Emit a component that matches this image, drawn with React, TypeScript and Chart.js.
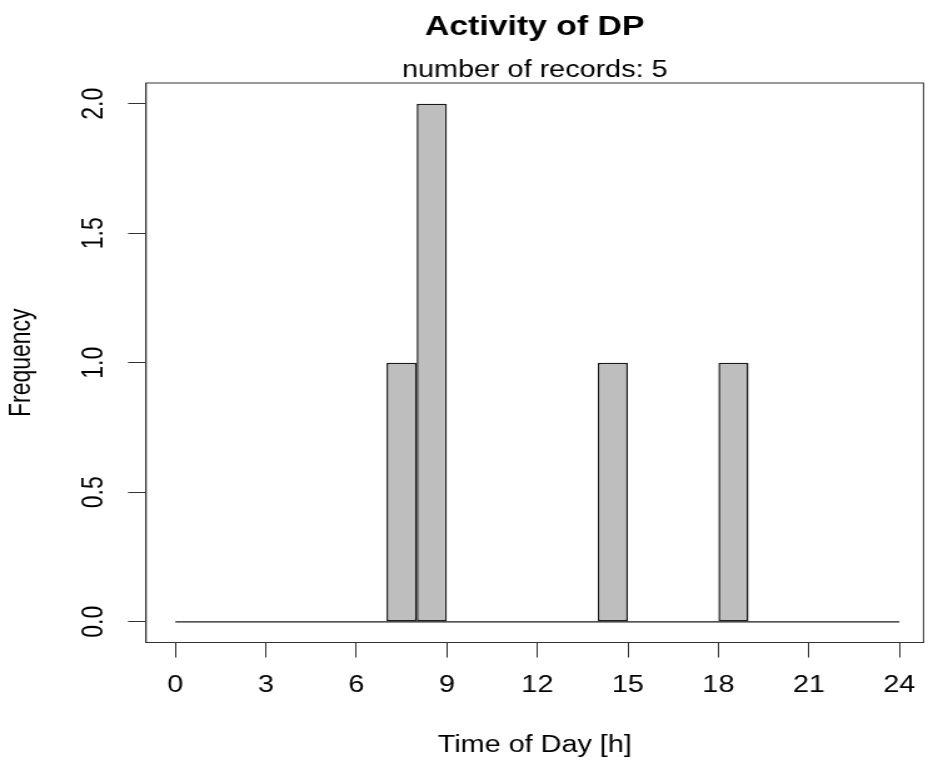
import React, { useEffect, useRef } from 'react';
import { Chart, registerables } from 'chart.js';

Chart.register(...registerables);

// ---- data ----
const binStartHours = [0, 1, 2, 3, 4, 5, 6, 7, 8, 9, 10, 11, 12, 13, 14, 15, 16, 17, 18, 19, 20, 21, 22, 23];
const frequencies = [0, 0, 0, 0, 0, 0, 0, 1, 2, 0, 0, 0, 0, 0, 1, 0, 0, 0, 1, 0, 0, 0, 0, 0];
const binWidth = 1;
const xTickValues = [0, 3, 6, 9, 12, 15, 18, 21, 24];
const yTickValues = [0, 0.5, 1, 1.5, 2];
const yTickLabels = ['0.0', '0.5', '1.0', '1.5', '2.0'];
const chartTitle = 'Activity of DP';
const chartSubtitle = 'number of records: 5';
const xAxisTitle = 'Time of Day [h]';
const yAxisTitle = 'Frequency';

// ---- layout / style ----
const W = 742;
const H = 760;
const STRETCH = 928 / W;
const FONT = "'Liberation Sans', Arial, Helvetica, sans-serif";
const INK = '#000';
const LINE = '#333';
const BAR_LINE = '#1a1a1a';
const BAR_FILL = '#bebebe';

const plotBox = {
  id: 'plotBox',
  afterDatasetsDraw(chart: any) {
    const { ctx, chartArea } = chart;
    const { left, top, right, bottom } = chartArea;
    ctx.save();
    ctx.strokeStyle = LINE;
    ctx.lineWidth = 1;
    ctx.strokeRect(left, top, right - left, bottom - top);
    ctx.restore();
  },
};

export default function App() {
  const ref = useRef<HTMLCanvasElement>(null);

  useEffect(() => {
    const barData = binStartHours.map((h, i) => ({ x: h + binWidth / 2, y: frequencies[i] }));
    const baseline = [
      { x: binStartHours[0], y: 0 },
      { x: binStartHours[binStartHours.length - 1] + binWidth, y: 0 },
    ];
    const chart = new Chart(ref.current as HTMLCanvasElement, {
      type: 'bar',
      data: {
        datasets: [
          {
            type: 'bar',
            data: barData as any,
            backgroundColor: BAR_FILL,
            borderColor: BAR_LINE,
            borderWidth: 1.5,
            borderSkipped: false,
            barPercentage: 1,
            categoryPercentage: 1,
            inflateAmount: 0,
          } as any,
          {
            type: 'line',
            data: baseline as any,
            borderColor: BAR_LINE,
            borderWidth: 1.2,
            pointRadius: 0,
            fill: false,
          } as any,
        ],
      },
      options: {
        animation: false,
        responsive: false,
        devicePixelRatio: 1,
        layout: { padding: { left: 0, right: 3.6, top: 0, bottom: 0 } },
        plugins: {
          legend: { display: false },
          tooltip: { enabled: false },
          title: {
            display: true,
            text: chartTitle,
            color: INK,
            fullSize: false,
            font: { family: FONT, size: 27, weight: 'bold', lineHeight: 1.2 },
            padding: { top: 11, bottom: 16.1 },
          },
          subtitle: {
            display: true,
            text: chartSubtitle,
            color: INK,
            fullSize: false,
            font: { family: FONT, size: 23, lineHeight: 1 },
            padding: { top: 0, bottom: 0.5 },
          },
        },
        scales: {
          x: {
            type: 'linear',
            min: -0.97,
            max: 24.8,
            offset: false,
            afterBuildTicks: (s: any) => {
              s.ticks = xTickValues.map((v) => ({ value: v }));
            },
            afterFit: (s: any) => {
              s.height = 117.5;
              s.paddingLeft = 0;
              s.paddingRight = 0;
            },
            grid: { drawOnChartArea: false, drawTicks: true, tickLength: 15, color: LINE, lineWidth: 1, offset: false },
            border: { display: true, color: LINE, width: 1 },
            ticks: {
              color: INK,
              font: { family: FONT, size: 23 },
              padding: 14.7,
              minRotation: 0,
              maxRotation: 0,
              autoSkip: false,
              callback: (v: any) => String(v),
            },
            title: {
              display: true,
              text: xAxisTitle,
              color: INK,
              font: { family: FONT, size: 23 },
              padding: { top: 0, bottom: 0.8 },
            },
          } as any,
          y: {
            type: 'linear',
            min: -0.08,
            max: 2.08,
            afterBuildTicks: (s: any) => {
              s.ticks = yTickValues.map((v) => ({ value: v }));
            },
            afterFit: (s: any) => {
              s.width = 116.8;
              s.paddingTop = 0;
              s.paddingBottom = 0;
            },
            grid: { drawOnChartArea: false, drawTicks: true, tickLength: 14.4, color: LINE, lineWidth: 1 },
            border: { display: true, color: LINE, width: 1 },
            ticks: {
              color: INK,
              font: { family: FONT, size: 23 },
              padding: 11.1,
              minRotation: 90,
              maxRotation: 90,
              crossAlign: 'center',
              autoSkip: false,
              callback: (_v: any, i: number) => yTickLabels[i],
            },
            title: {
              display: true,
              text: yAxisTitle,
              color: INK,
              font: { family: FONT, size: 23 },
              padding: { top: 4, bottom: 0 },
            },
          } as any,
        },
      },
      plugins: [plotBox],
    });
    return () => chart.destroy();
  }, []);

  return (
    <div
      style={{
        position: 'fixed',
        left: 0,
        top: 0,
        width: 928,
        height: 760,
        overflow: 'hidden',
        background: '#fff',
      }}
    >
      <div style={{ width: W, height: H, transform: `scaleX(${STRETCH})`, transformOrigin: '0 0' }}>
        <canvas ref={ref} width={W} height={H} style={{ display: 'block', width: W, height: H }} />
      </div>
    </div>
  );
}
